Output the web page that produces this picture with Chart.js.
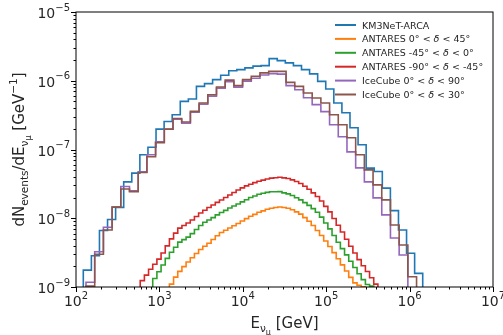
<!DOCTYPE html>
<html lang="en">
<head>
  <meta charset="UTF-8" />
  <title>Muon neutrino event spectra</title>
  <script src="https://cdn.jsdelivr.net/npm/chart.js"></script>
  <style>
    html, body { margin: 0; padding: 0; background: #fff; }
    canvas { display: block; }
  </style>
</head>
<body>
  <canvas id="spectra" width="503" height="335"></canvas>

  <script>
    // Binning (log10 of first edge, log10 bin width)
    const arcaLogStart = 2.0875, arcaLogWidth = 0.0969;
    const icLogStart = 2.12, icLogWidth = 0.1043;
    const antLogStart = 2.77, antLogWidth = 0.05;

    // KM3NeT-ARCA
    const arcaVals = [1.76e-9, 2.85e-9, 6.64e-9, 9.61e-9, 1.44e-8, 3.38e-8, 4.53e-8, 8.37e-8, 1.08e-7, 1.98e-7,
      2.56e-7, 3.21e-7, 5.01e-7, 5.43e-7, 8.28e-7, 9.07e-7, 1.04e-6, 1.20e-6, 1.40e-6, 1.45e-6,
      1.54e-6, 1.63e-6, 1.66e-6, 2.10e-6, 1.96e-6, 1.82e-6, 1.66e-6, 1.45e-6, 1.26e-6, 9.80e-7,
      7.59e-7, 4.75e-7, 3.43e-7, 2.07e-7, 1.17e-7, 5.36e-8, 4.78e-8, 2.74e-8, 1.29e-8, 6.75e-9,
      3.09e-9, 1.58e-9];

    // IceCube 0 < dec < 90
    const ic90Vals = [1.17e-9, 3.26e-9, 7.39e-9, 1.46e-8, 2.89e-8, 2.50e-8, 4.73e-8, 8.37e-8, 1.29e-7, 1.97e-7,
      2.75e-7, 2.41e-7, 3.48e-7, 4.56e-7, 5.97e-7, 7.80e-7, 9.70e-7, 8.07e-7, 9.86e-7, 1.09e-6,
      1.21e-6, 1.27e-6, 1.25e-6, 8.48e-7, 7.41e-7, 5.67e-7, 4.49e-7, 3.55e-7, 2.29e-7, 1.53e-7,
      9.25e-8, 5.41e-8, 3.38e-8, 1.98e-8, 1.12e-8, 5.16e-9, 2.92e-9];

    // IceCube 0 < dec < 30
    const ic30Vals = [1.03e-9, 2.99e-9, 6.75e-9, 1.45e-8, 2.67e-8, 2.44e-8, 4.62e-8, 7.83e-8, 1.26e-7, 1.98e-7,
      2.83e-7, 2.51e-7, 3.58e-7, 4.75e-7, 6.27e-7, 8.12e-7, 1.02e-6, 8.48e-7, 1.04e-6, 1.16e-6,
      1.30e-6, 1.37e-6, 1.37e-6, 9.48e-7, 8.28e-7, 6.64e-7, 5.61e-7, 4.75e-7, 3.21e-7, 2.29e-7,
      1.48e-7, 8.37e-8, 5.06e-8, 3.06e-8, 1.85e-8, 7.98e-9, 4.08e-9, 1.41e-9];

    // ANTARES, first visible bin index on the 0.05 grid
    const antNorthFirst = 7;
    const antNorthVals = [1.10e-9, 1.39e-9, 1.69e-9, 1.98e-9, 2.31e-9, 2.67e-9, 3.07e-9, 3.51e-9, 3.91e-9, 4.32e-9,
      4.91e-9, 5.57e-9, 6.21e-9, 6.68e-9, 7.22e-9, 7.78e-9, 8.39e-9, 9.10e-9, 9.86e-9, 1.07e-8,
      1.14e-8, 1.22e-8, 1.28e-8, 1.35e-8, 1.40e-8, 1.43e-8, 1.46e-8, 1.43e-8, 1.40e-8, 1.33e-8,
      1.24e-8, 1.15e-8, 1.02e-8, 9.04e-9, 7.83e-9, 6.62e-9, 5.60e-9, 4.67e-9, 3.88e-9, 3.16e-9,
      2.57e-9, 2.10e-9, 1.71e-9, 1.38e-9, 1.15e-9, 1.06e-9, 1.01e-9];
    const antEquFirst = 3;
    const antEquVals = [1.33e-9, 1.67e-9, 2.09e-9, 2.61e-9, 3.21e-9, 3.79e-9, 4.49e-9, 4.89e-9, 5.32e-9, 5.98e-9,
      6.87e-9, 7.85e-9, 8.75e-9, 9.42e-9, 1.02e-8, 1.12e-8, 1.21e-8, 1.30e-8, 1.41e-8, 1.51e-8,
      1.61e-8, 1.73e-8, 1.86e-8, 2.00e-8, 2.11e-8, 2.23e-8, 2.31e-8, 2.38e-8, 2.43e-8, 2.43e-8,
      2.44e-8, 2.34e-8, 2.26e-8, 2.14e-8, 1.99e-8, 1.85e-8, 1.69e-8, 1.54e-8, 1.38e-8, 1.22e-8,
      1.04e-8, 8.51e-9, 7.00e-9, 5.60e-9, 4.47e-9, 3.61e-9, 2.93e-9, 2.37e-9, 1.92e-9, 1.56e-9,
      1.28e-9, 1.09e-9, 1.03e-9];
    const antSouthFirst = 0;
    const antSouthVals = [1.24e-9, 1.49e-9, 1.81e-9, 2.14e-9, 2.54e-9, 3.13e-9, 3.96e-9, 5.01e-9, 6.07e-9, 7.19e-9,
      7.83e-9, 8.51e-9, 9.44e-9, 1.06e-8, 1.19e-8, 1.31e-8, 1.43e-8, 1.56e-8, 1.70e-8, 1.84e-8,
      2.00e-8, 2.18e-8, 2.37e-8, 2.58e-8, 2.77e-8, 2.96e-8, 3.13e-8, 3.30e-8, 3.46e-8, 3.59e-8,
      3.73e-8, 3.83e-8, 3.88e-8, 3.94e-8, 3.86e-8, 3.78e-8, 3.62e-8, 3.43e-8, 3.21e-8, 2.92e-8,
      2.64e-8, 2.34e-8, 2.07e-8, 1.78e-8, 1.49e-8, 1.24e-8, 9.91e-9, 7.91e-9, 6.30e-9, 4.96e-9,
      3.91e-9, 3.12e-9, 2.50e-9, 2.04e-9, 1.68e-9, 1.36e-9, 1.10e-9];

    const xTickExps = [2, 3, 4, 5, 6, 7];
    const yTickExps = [-9, -8, -7, -6, -5];

    const FLOOR = 1e-12;   // histogram outline drops below the axis
    const FONT = '"DejaVu Sans", sans-serif';

    // step-histogram outline from left edges
    function stepPoints(start, width, first, vals) {
      const edge = i => Math.pow(10, start + width * (first + i));
      const pts = [{x: edge(0), y: FLOOR}];
      vals.forEach((v, i) => pts.push({x: edge(i), y: v}));
      pts.push({x: edge(vals.length), y: vals[vals.length - 1]});
      pts.push({x: edge(vals.length), y: FLOOR});
      return pts;
    }

    const series = [
      {label: 'KM3NeT-ARCA', color: '#1f77b4', data: stepPoints(arcaLogStart, arcaLogWidth, 0, arcaVals)},
      {label: ['ANTARES 0° < ', 'δ', ' < 45°'], color: '#ff7f0e', data: stepPoints(antLogStart, antLogWidth, antNorthFirst, antNorthVals)},
      {label: ['ANTARES -45° < ', 'δ', ' < 0°'], color: '#2ca02c', data: stepPoints(antLogStart, antLogWidth, antEquFirst, antEquVals)},
      {label: ['ANTARES -90° < ', 'δ', ' < -45°'], color: '#d62728', data: stepPoints(antLogStart, antLogWidth, antSouthFirst, antSouthVals)},
      {label: ['IceCube 0° < ', 'δ', ' < 90°'], color: '#9467bd', data: stepPoints(icLogStart, icLogWidth, 0, ic90Vals)},
      {label: ['IceCube 0° < ', 'δ', ' < 30°'], color: '#8c564b', data: stepPoints(icLogStart, icLogWidth, 0, ic30Vals)}
    ];

    // draw a run of text pieces: [text, size, dy, italic]
    function richWidth(ctx, parts) {
      let w = 0;
      parts.forEach(p => { ctx.font = (p[3] ? 'italic ' : '') + p[1] + 'px ' + FONT; w += ctx.measureText(p[0]).width; });
      return w;
    }
    function drawRich(ctx, parts, x, y, align) {
      let cx = x;
      if (align === 'center') cx = x - richWidth(ctx, parts) / 2;
      if (align === 'right') cx = x - richWidth(ctx, parts);
      ctx.textAlign = 'left';
      ctx.textBaseline = 'alphabetic';
      parts.forEach(p => {
        ctx.font = (p[3] ? 'italic ' : '') + p[1] + 'px ' + FONT;
        ctx.fillText(p[0], cx, y + p[2]);
        cx += ctx.measureText(p[0]).width;
      });
    }
    const powLabel = e => [['10', 14, 0], [String(e).replace('-', '\u2212'), 10, -7.5]];

    const axesDecor = {
      id: 'axesDecor',
      afterDraw(chart) {
        const {ctx, chartArea: a, scales: {x, y}} = chart;
        ctx.save();
        ctx.strokeStyle = '#000';
        ctx.fillStyle = '#262626';
        ctx.lineWidth = 1;
        ctx.strokeRect(a.left, a.top, a.right - a.left, a.bottom - a.top);

        // major + minor ticks
        ctx.beginPath();
        for (let e = 2; e <= 7; e++) {
          for (let m = 1; m <= 9; m++) {
            if (e === 7 && m > 1) break;
            const px = Math.round(x.getPixelForValue(m * Math.pow(10, e))) + 0.5;
            ctx.moveTo(px, a.bottom);
            ctx.lineTo(px, a.bottom + (m === 1 ? 5 : 2.5));
          }
        }
        for (let e = -9; e <= -5; e++) {
          for (let m = 1; m <= 9; m++) {
            if (e === -5 && m > 1) break;
            const py = Math.round(y.getPixelForValue(m * Math.pow(10, e))) + 0.5;
            ctx.moveTo(a.left, py);
            ctx.lineTo(a.left - (m === 1 ? 5 : 2.5), py);
          }
        }
        ctx.stroke();

        xTickExps.forEach(e => {
          drawRich(ctx, powLabel(e), x.getPixelForValue(Math.pow(10, e)), a.bottom + 19, 'center');
        });
        yTickExps.forEach(e => {
          drawRich(ctx, powLabel(e), a.left - 6, y.getPixelForValue(Math.pow(10, e)) + 6, 'right');
        });

        // axis titles
        drawRich(ctx, [['E', 15, 0], ['ν', 10.5, 4], ['μ', 8, 7], [' [GeV]', 15, 0]],
          (a.left + a.right) / 2, a.bottom + 41, 'center');
        ctx.save();
        ctx.translate(24, (a.top + a.bottom) / 2);
        ctx.rotate(-Math.PI / 2);
        drawRich(ctx, [['dN', 15, 0], ['events', 10.5, 4], ['/dE', 15, 0], ['ν', 10.5, 4], ['μ', 8, 7],
          [' [GeV', 15, 0], ['\u22121', 10.5, -7], [']', 15, 0]], 0, 0, 'center');
        ctx.restore();

        // legend
        series.forEach((s, i) => {
          const ly = 25 + i * 13.9;
          ctx.strokeStyle = s.color;
          ctx.lineWidth = 2;
          ctx.beginPath();
          ctx.moveTo(335, ly);
          ctx.lineTo(356, ly);
          ctx.stroke();
          const parts = Array.isArray(s.label)
            ? [[s.label[0], 9.5, 0], [s.label[1], 9.5, 0, true], [s.label[2], 9.5, 0]]
            : [[s.label, 9.5, 0]];
          drawRich(ctx, parts, 362, ly + 3.5, 'left');
        });
        ctx.restore();
      }
    };

    new Chart(document.getElementById('spectra'), {
      type: 'line',
      data: {
        datasets: series.map((s, i) => ({
          label: Array.isArray(s.label) ? s.label.join('') : s.label,
          data: s.data,
          borderColor: s.color,
          borderWidth: 1.6,
          pointRadius: 0,
          fill: false,
          stepped: 'before',
          order: series.length - i
        }))
      },
      options: {
        responsive: false,
        animation: false,
        devicePixelRatio: 1,
        layout: { padding: { left: 76, right: 10, top: 12, bottom: 48 } },
        plugins: { legend: { display: false }, tooltip: { enabled: false } },
        scales: {
          x: { type: 'logarithmic', min: 1e2, max: 1e7, display: false },
          y: { type: 'logarithmic', min: 1e-9, max: 1e-5, display: false }
        }
      },
      plugins: [axesDecor]
    });
  </script>
</body>
</html>
